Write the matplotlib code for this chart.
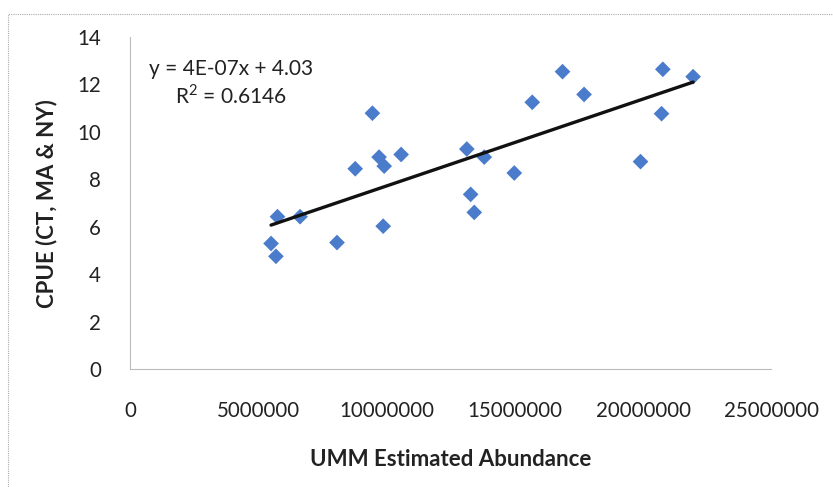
import matplotlib
matplotlib.use("Agg")
import matplotlib.pyplot as plt
from matplotlib.patches import Rectangle
import numpy as np

abundance = [5.50e6, 5.69e6, 5.75e6, 6.63e6, 8.07e6, 8.78e6, 9.45e6, 9.71e6, 9.91e6,
             9.87e6, 10.57e6, 13.13e6, 13.28e6, 13.42e6, 13.81e6, 14.98e6, 15.68e6,
             16.86e6, 17.70e6, 19.90e6, 20.77e6, 20.72e6, 21.95e6]
cpue = [5.30, 4.76, 6.43, 6.43, 5.34, 8.45, 10.79, 8.94, 8.56,
        6.03, 9.05, 9.28, 7.37, 6.61, 8.94, 8.27, 11.25,
        12.54, 11.58, 8.75, 12.64, 10.77, 12.33]
x_ticks = [0, 5000000, 10000000, 15000000, 20000000, 25000000]
y_ticks = [0, 2, 4, 6, 8, 10, 12, 14]
equation_text = "y = 4E-07x + 4.03\nR$^2$ = 0.6146"

plt.rcParams['font.family'] = ['Lato', 'DejaVu Sans']
plt.rcParams['mathtext.fontset'] = 'custom'
plt.rcParams['mathtext.rm'] = 'Lato'

fig = plt.figure(figsize=(8.33, 4.87), dpi=100)
ax = fig.add_axes([0.156, 0.2417, 0.770, 0.6823])

ax.scatter(abundance, cpue, marker='D', s=64, color='#4A7CCB', edgecolors='none', zorder=3)

coef = np.polyfit(abundance, cpue, 1)
xs = np.array([min(abundance), max(abundance)])
ax.plot(xs, np.polyval(coef, xs), color='#111111', lw=2.4, solid_capstyle='round', zorder=4)

ax.set_xlim(0, 25000000)
ax.set_ylim(0, 14)
ax.set_xticks(x_ticks)
ax.set_xticklabels([str(v) for v in x_ticks])
ax.set_yticks(y_ticks)
ax.set_yticklabels([str(v) for v in y_ticks])
ax.tick_params(axis='both', length=0, labelsize=14.8, colors='#222222')
ax.tick_params(axis='x', pad=23)
ax.tick_params(axis='y', pad=21)

for s in ['top', 'right']:
    ax.spines[s].set_visible(False)
for s in ['left', 'bottom']:
    ax.spines[s].set_color('#BBBBBB')
    ax.spines[s].set_linewidth(0.8)

ax.set_xlabel('UMM Estimated Abundance', fontsize=16, fontweight='bold', color='#222222', labelpad=20)
ax.set_ylabel('CPUE (CT, MA & NY)', fontsize=16, fontweight='bold', color='#222222', labelpad=14)

ax.text(0.158, 0.935, equation_text, transform=ax.transAxes, ha='center', va='top',
        fontsize=15, color='#222222', linespacing=1.25)

fig.patches.append(Rectangle((8/833, -0.1), 1.2, (487 - 14)/487 + 0.1, transform=fig.transFigure,
                             fill=False, edgecolor='#AAAAAA', lw=0.8, linestyle=(0, (1, 1))))

fig.savefig('out.png', dpi=100, facecolor='white')
